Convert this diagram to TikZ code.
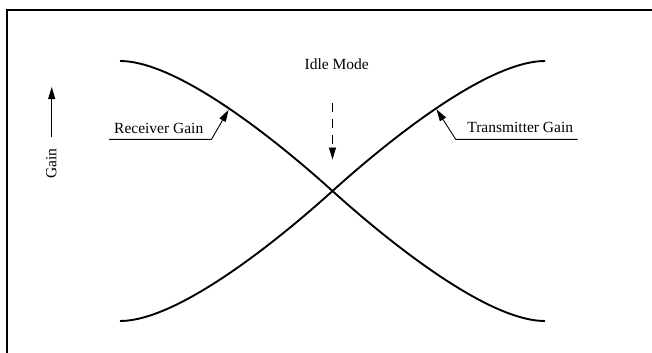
\documentclass[tikz,border=0pt]{standalone}
\usepackage{fontspec}
\setmainfont{Liberation Serif}
\usetikzlibrary{arrows.meta}
\begin{document}
\begin{tikzpicture}[x=1bp,y=-1bp,
  lbl/.style={inner sep=0pt, font=\fontsize{15.5bp}{18bp}\selectfont},
  curve/.style={line width=1.9bp},
  thin/.style={line width=0.9bp},
  tip/.style={-{Triangle[length=12bp,width=7bp]}}]
\useasboundingbox (0,0) rectangle (652,352);
\begin{scope}
\clip (0,0) rectangle (652,352);
\draw[line width=1.8bp] (7.2,400) -- (7.2,10.2) -- (700,10.2);
\end{scope}
% curves
\coordinate (r0) at (120,61);
\coordinate (r1) at (545,321);
\coordinate (t0) at (120,321);
\coordinate (t1) at (545,61);
\coordinate (x) at (332.5,191);
\draw[curve] (r0) .. controls (179,61) and (280.5,144) .. (x)
                  .. controls (384.5,238) and (486,321) .. (r1);
\draw[curve] (t0) .. controls (179,321) and (280.5,238) .. (x)
                  .. controls (384.5,144) and (486,61) .. (t1);
% Idle mode
\node[lbl, anchor=base] (idle) at (336.8,69.3) {Idle Mode};
\coordinate (idleS) at (332.5,103);
\coordinate (idleE) at (332.5,159.5);
\draw[thin, tip, dash pattern=on 9bp off 7bp] (idleS) -- (idleE);
% Gain axis
\node[lbl, anchor=base, rotate=90] (gain) at (56.3,163.5) {Gain};
\coordinate (gS) at (51.7,137.3);
\coordinate (gE) at (51.7,87);
\draw[thin, tip] (gS) -- (gE);
% Receiver gain
\node[lbl, anchor=base] (rg) at (158.7,133.2) {Receiver Gain};
\coordinate (rgA) at (109,139.3);
\coordinate (rgB) at (211.5,139.3);
\coordinate (rgT) at (228.6,109.8);
\draw[thin, tip] (rgA) -- (rgB) -- (rgT);
% Transmitter gain
\node[lbl, anchor=base] (tg) at (520.2,132.7) {Transmitter Gain};
\coordinate (tgA) at (577.7,139.3);
\coordinate (tgB) at (455.7,139.3);
\coordinate (tgT) at (436.5,109.3);
\draw[thin, tip] (tgA) -- (tgB) -- (tgT);
\end{tikzpicture}
\end{document}
